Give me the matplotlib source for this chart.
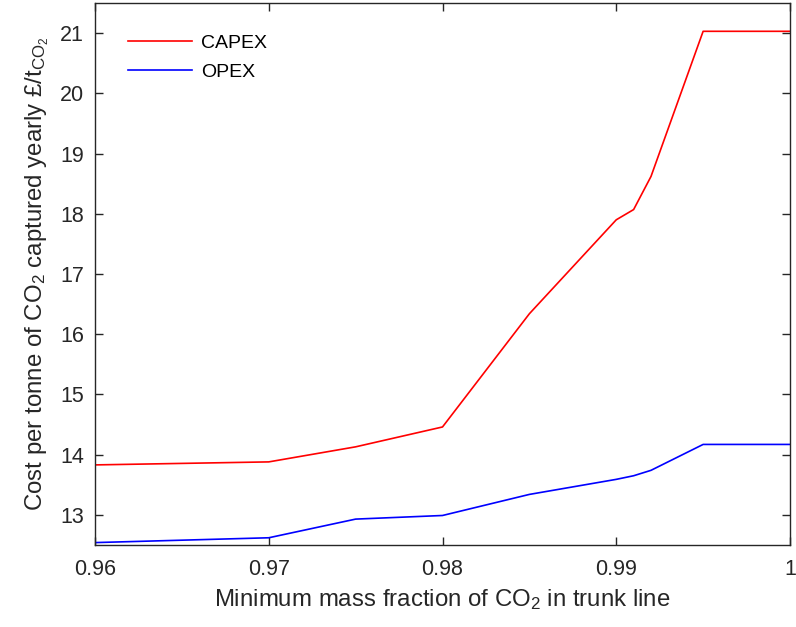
import matplotlib
matplotlib.use("Agg")
import matplotlib.pyplot as plt

plt.rcParams['font.family'] = ['Liberation Sans', 'DejaVu Sans']
plt.rcParams['mathtext.default'] = 'regular'

x = [0.96, 0.97, 0.975, 0.98, 0.985, 0.99, 0.991, 0.992, 0.995, 1.0]
capex = [13.83, 13.88, 14.13, 14.46, 16.34, 17.90, 18.07, 18.62, 21.03, 21.03]
opex = [12.54, 12.62, 12.93, 12.99, 13.34, 13.59, 13.65, 13.74, 14.17, 14.17]
xticks = [0.96, 0.97, 0.98, 0.99, 1.0]
xticklabels = ['0.96', '0.97', '0.98', '0.99', '1']
yticks = [13, 14, 15, 16, 17, 18, 19, 20, 21]

fig = plt.figure(figsize=(7.96, 6.27), dpi=100)
ax = fig.add_axes([95/796, 1-545/627, (790-95)/796, (545-3)/627])

ax.plot(x, capex, color='#ff0000', lw=1.2, label='CAPEX')
ax.plot(x, opex, color='#0000ff', lw=1.2, label='OPEX')

ax.set_xlim(0.96, 1.0)
ax.set_ylim(12.5, 21.5)
ax.set_xticks(xticks)
ax.set_xticklabels(xticklabels)
ax.set_yticks(yticks)

axc = '#262626'
for s in ax.spines.values():
    s.set_color(axc)
    s.set_linewidth(1.0)
ax.tick_params(direction='in', top=True, right=True, length=6, width=1.0,
               color=axc, labelcolor=axc, labelsize=15.5)
ax.tick_params(axis='x', pad=10)
ax.tick_params(axis='y', pad=8)

ax.set_xlabel('Minimum mass fraction of CO$_2$ in trunk line', fontsize=17.3, color=axc, labelpad=5)
ax.set_ylabel('Cost per tonne of CO$_2$ captured yearly £/t$_{CO_2}$', fontsize=17.3, color=axc, labelpad=6)

leg = ax.legend(loc='upper left', frameon=False, fontsize=14, handlelength=3.3,
                handletextpad=0.45, labelspacing=0.55, bbox_to_anchor=(0.022, 0.974))
for t in leg.get_texts():
    t.set_color('black')

fig.savefig('out.png', dpi=100)
